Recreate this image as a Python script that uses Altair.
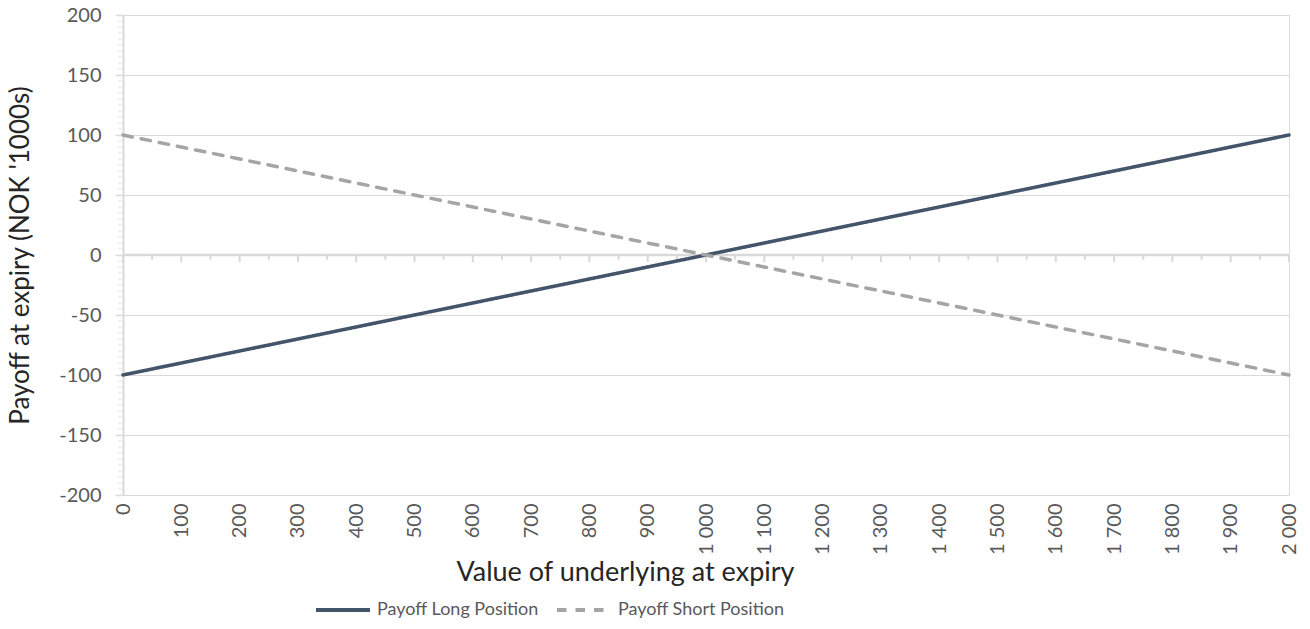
import altair as alt
import pandas as pd

# ---- data ----
underlying = [0, 100, 200, 300, 400, 500, 600, 700, 800, 900, 1000,
              1100, 1200, 1300, 1400, 1500, 1600, 1700, 1800, 1900, 2000]
payoff_long = [-100, -90, -80, -70, -60, -50, -40, -30, -20, -10, 0,
               10, 20, 30, 40, 50, 60, 70, 80, 90, 100]
payoff_short = [100, 90, 80, 70, 60, 50, 40, 30, 20, 10, 0,
                -10, -20, -30, -40, -50, -60, -70, -80, -90, -100]
series_names = ["Payoff Long Position", "Payoff Short Position"]
x_tick_values = list(range(0, 2001, 100))
x_minor_values = list(range(0, 2001, 50))
y_tick_values = list(range(-200, 201, 25))
y_minor_values = list(range(-200, 201, 5))

W, H = 1166, 480
TOP = 7
FONT = "Lato"
GRID = "#d9d9d9"

rows = []
for x, v in zip(underlying, payoff_long):
    rows.append({"x": x, "y": v, "series": series_names[0]})
for x, v in zip(underlying, payoff_short):
    rows.append({"x": x, "y": v, "series": series_names[1]})
df = pd.DataFrame(rows)

xticks_df = pd.DataFrame({"x": x_minor_values,
                          "major": [v % 100 == 0 for v in x_minor_values]})
yminor_df = pd.DataFrame({"y": y_minor_values})

xscale = alt.Scale(domain=[0, 2000], nice=False, zero=False)
yscale = alt.Scale(domain=[-200, 200], nice=False)

# y minor ticks
y_minor = alt.Chart(yminor_df).mark_rule(color="#e6e6e6", strokeWidth=1).encode(
    y=alt.Y("y:Q", scale=yscale),
    x=alt.value(-5), x2=alt.value(0))

# zero line
zero_line = alt.Chart(pd.DataFrame({"y": [0]})).mark_rule(color=GRID, strokeWidth=2.5).encode(
    y=alt.Y("y:Q", scale=yscale),
    x=alt.value(0), x2=alt.value(W))

# x ticks on zero line
x_ticks_major = alt.Chart(xticks_df).transform_filter("datum.major").mark_rule(
    color=GRID, strokeWidth=2).encode(
    x=alt.X("x:Q", scale=xscale),
    y=alt.Y("y0:Q", scale=yscale), y2="y1:Q").transform_calculate(y0="0", y1="-6")
x_ticks_minor = alt.Chart(xticks_df).transform_filter("!datum.major").mark_rule(
    color=GRID, strokeWidth=2).encode(
    x=alt.X("x:Q", scale=xscale),
    y=alt.Y("y0:Q", scale=yscale), y2="y1:Q").transform_calculate(y0="0", y1="-4")

legend_cfg = dict(title=None, orient="none", direction="horizontal",
                  legendX=191, legendY=566,
                  symbolType="stroke", symbolSize=2916,
                  symbolStrokeWidth=4, labelFont=FONT,
                  labelFontSize=18, labelColor="#595959", labelLimit=400,
                  labelOffset=5, columnPadding=10, padding=0)

lines = alt.Chart(df).mark_line(strokeWidth=3.5, strokeCap="round").encode(
    x=alt.X("x:Q", scale=xscale,
            axis=alt.Axis(values=x_tick_values, labelAngle=-90, grid=False,
                          domain=False, ticks=False, labelPadding=8,
                          labelOverlap=False,
                          labelExpr="replace(format(datum.value, ','), ',', ' ')",
                          labelFont=FONT, labelFontSize=20, labelColor="#595959",
                          title="Value of underlying at expiry",
                          titleFont=FONT, titleFontSize=27, titleFontWeight="normal",
                          titleColor="#262626", titleX=502, titleY=85,
                          titleAlign="center", titleBaseline="alphabetic")),
    y=alt.Y("y:Q", scale=yscale,
            axis=alt.Axis(values=y_tick_values, grid=True, gridColor=GRID, gridWidth=1,
                          domain=True, domainColor=GRID, domainWidth=2,
                          ticks=True, tickSize=8, tickColor=GRID, tickWidth=1.5,
                          labelPadding=14, labelFont=FONT, labelFontSize=20,
                          labelColor="#595959", labelOverlap=False,
                          labelExpr="datum.value < 0 ? '-' + abs(datum.value) : '' + datum.value",
                          title="Payoff at expiry (NOK '1000s)",
                          titleFont=FONT, titleFontSize=26, titleFontWeight="normal",
                          titleColor="#262626", titleX=-95, titleY=H / 2,
                          titleAngle=-90, titleAlign="center", titleBaseline="alphabetic")),
    color=alt.Color("series:N",
                    scale=alt.Scale(domain=series_names, range=["#44546a", "#a5a5a5"]),
                    legend=alt.Legend(**legend_cfg)),
    strokeDash=alt.StrokeDash("series:N",
                              scale=alt.Scale(domain=series_names, range=[[1, 0], [9.5, 9]]),
                              legend=alt.Legend(**legend_cfg)),
)

chart = alt.layer(y_minor, zero_line, x_ticks_major, x_ticks_minor, lines).properties(
    width=W, height=H,
    autosize=alt.AutoSizeParams(type="none"),
    padding={"left": 115, "top": TOP, "right": 12, "bottom": 613 - TOP - H},
).configure_view(stroke=None).configure(background="white")

chart.save("out.html", embed_options={"renderer": "svg", "actions": False})
